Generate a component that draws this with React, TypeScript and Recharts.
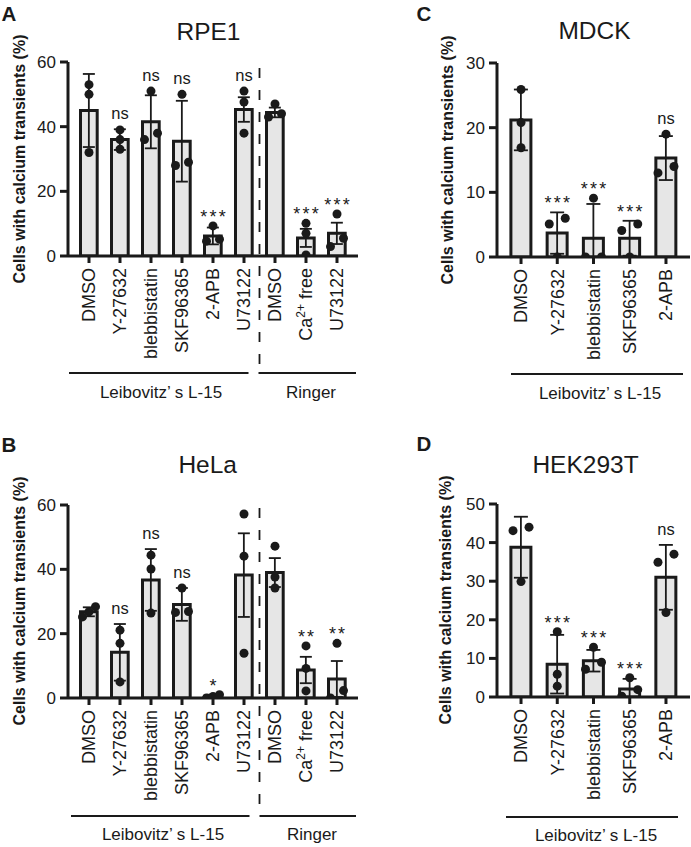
import React from 'react';
import { ComposedChart, Bar, ErrorBar, Scatter, XAxis, YAxis } from 'recharts';

const FONT = '"Liberation Sans", Arial, Helvetica, sans-serif';
const INK = '#1a1a1a';
const BAR_FILL = '#e6e6e6';

// ---------- categories ----------
const longCats = ['DMSO', 'Y-27632', 'blebbistatin', 'SKF96365', '2-APB', 'U73122', 'DMSO', 'Ca2+ free', 'U73122'];
const shortCats = ['DMSO', 'Y-27632', 'blebbistatin', 'SKF96365', '2-APB'];

// ---------- RPE1 ----------
const rpe1Mean = [45, 36, 41.5, 35.5, 6.2, 45.3, 44.4, 5.6, 7];
const rpe1Err = [11.3, 3.2, 8.2, 12.5, 2.6, 3.8, 1.5, 2.8, 3.3];
const rpe1Points = [
  [53, 50, 32],
  [39, 36, 33],
  [51, 36, 38],
  [50, 28, 29],
  [9.3, 5.2, 4.6],
  [51, 47.6, 38],
  [47, 43, 44],
  [10.1, 7.0, 0.3],
  [13, 2.9, 5.5],
];
const rpe1Sig = ['', 'ns', 'ns', 'ns', '***', 'ns', '', '***', '***'];

// ---------- HeLa ----------
const helaMean = [26.8, 14.2, 36.7, 29.1, 0.5, 38.2, 39.0, 8.7, 5.9];
const helaErr = [1.4, 8.8, 9.6, 5.1, 0.5, 13.0, 4.5, 4.1, 5.6];
const helaPoints = [
  [28.4, 26.8, 25.2],
  [21.1, 17, 5],
  [44.4, 40.1, 26.4],
  [34.2, 26.9, 26.6],
  [0, 0.5, 1],
  [57.2, 44.1, 13.9],
  [47.2, 37.6, 34.2],
  [16.2, 9.2, 2.2],
  [17, 0, 2.3],
];
const helaSig = ['', 'ns', 'ns', 'ns', '*', 'ns', '', '**', '**'];

// ---------- MDCK ----------
const mdckMean = [21.2, 3.7, 2.9, 2.9, 15.3];
const mdckErr = [4.7, 3.2, 5.3, 2.7, 3.4];
const mdckPoints = [
  [25.9, 20.8, 16.9],
  [6.0, 5.1, 0],
  [9.1, 0, 0],
  [5.1, 4.1, 0],
  [19, 13, 14],
];
const mdckSig = ['', '***', '***', '***', 'ns'];

// ---------- HEK293T ----------
const hekMean = [38.8, 8.5, 9.4, 2.1, 31.0];
const hekErr = [7.9, 7.6, 2.8, 2.6, 8.4];
const hekPoints = [
  [44, 43.1, 29.9],
  [16.9, 5.9, 2.8],
  [12.9, 7.2, 9.0],
  [5.0, 0.2, 1.9],
  [37, 34.9, 21.9],
];
const hekSig = ['', '***', '***', '***', 'ns'];

// ---------- layout ----------
type Geo = {
  left: number; top: number; width: number; height: number;
  plotLeft: number; plotRight: number; plotTop: number; plotBottom: number;
  xAxisH: number; pad: number; barSize: number; jitter: number; capW: number;
};

const geoA: Geo = { left: 0, top: 0, width: 360, height: 420, plotLeft: 68, plotRight: 358, plotTop: 62, plotBottom: 256, xAxisH: 140, pad: 5.5, barSize: 16.7, jitter: 6.5, capW: 6 };
const geoB: Geo = { left: 0, top: 440, width: 360, height: 400, plotLeft: 68, plotRight: 358, plotTop: 505, plotBottom: 698, xAxisH: 120, pad: 5.5, barSize: 16.7, jitter: 6.5, capW: 6 };
const geoC: Geo = { left: 420, top: 0, width: 271, height: 420, plotLeft: 497, plotRight: 690, plotTop: 63, plotBottom: 257, xAxisH: 140, pad: 5.9, barSize: 20, jitter: 8, capW: 7 };
const geoD: Geo = { left: 420, top: 440, width: 271, height: 400, plotLeft: 497, plotRight: 690, plotTop: 504, plotBottom: 697, xAxisH: 120, pad: 5.9, barSize: 20, jitter: 8, capW: 7 };

function jitterOffsets(vals: number[], ppu: number, j: number): number[] {
  const idx = vals.map((_, i) => i).sort((a, b) => vals[a] - vals[b]);
  const out = new Array(vals.length).fill(0);
  let cluster: number[] = [idx[0]];
  const flush = () => {
    const n = cluster.length;
    cluster.forEach((k, m) => {
      out[k] = n === 1 ? 0 : (m - (n - 1) / 2) * ((2 * j) / (n - 1));
    });
  };
  for (let t = 1; t < idx.length; t++) {
    const prev = idx[t - 1];
    const cur = idx[t];
    if ((vals[cur] - vals[prev]) * ppu < 9) cluster.push(cur);
    else {
      flush();
      cluster = [cur];
    }
  }
  flush();
  return out;
}

function XTick(props: any) {
  const { x, y, payload, cats } = props;
  const label: string = cats[Number(payload.value)] || '';
  const m = label.match(/^(\D+?)(\d\+)(.*)$/);
  const base = 6.3;
  return (
    <text x={x} y={y} transform={`rotate(-90, ${x}, ${y})`} textAnchor="end" fontSize={18} fill={INK} fontFamily={FONT}>
      {m ? (
        <>
          <tspan dy={base}>{m[1]}</tspan>
          <tspan dy={-7} fontSize={12}>{m[2]}</tspan>
          <tspan dy={7}>{m[3]}</tspan>
        </>
      ) : (
        <tspan dy={base}>{label}</tspan>
      )}
    </text>
  );
}

const dotShape = (k: number) => (props: any) => {
  const { cx, cy, payload } = props;
  if (cx == null || cy == null) return <g />;
  return <circle cx={cx + (payload['d' + k] || 0)} cy={cy} r={4.5} fill={INK} />;
};

const sigShape = (props: any) => {
  const { cx, cy, payload } = props;
  const s: string = payload.sig;
  if (!s || cx == null) return <g />;
  const stars = s.includes('*');
  return (
    <text
      x={cx}
      y={stars ? cy - 3 : cy - 10}
      dx={stars ? 1.1 : 0}
      textAnchor="middle"
      fontSize={stars ? 18 : 16.5}
      letterSpacing={stars ? 2.2 : 0}
      fill={INK}
      fontFamily={FONT}
    >
      {s}
    </text>
  );
};

type PanelProps = {
  geo: Geo; cats: string[]; mean: number[]; err: number[]; pts: number[][]; sig: string[];
  yMax: number; yTicks: number[];
};

function Panel({ geo, cats, mean, err, pts, sig, yMax, yTicks }: PanelProps) {
  const ppu = (geo.plotBottom - geo.plotTop) / yMax;
  const rows = cats.map((_, i) => {
    const p = pts[i];
    const dx = jitterOffsets(p, ppu, geo.jitter);
    return {
      key: String(i),
      mean: mean[i],
      err: [Math.min(err[i], mean[i]), err[i]],
      p0: p[0], p1: p[1], p2: p[2],
      d0: dx[0], d1: dx[1], d2: dx[2],
      top: Math.max(mean[i] + err[i], ...p),
      sig: sig[i],
    };
  });
  const margin = {
    top: geo.plotTop - geo.top,
    left: 0,
    right: geo.left + geo.width - geo.plotRight,
    bottom: geo.top + geo.height - geo.plotBottom - geo.xAxisH,
  };
  const line = { stroke: INK, strokeWidth: 3 };
  return (
    <div style={{ position: 'absolute', left: geo.left, top: geo.top }}>
      <ComposedChart width={geo.width} height={geo.height} data={rows} margin={margin}>
        <XAxis
          dataKey="key"
          type="category"
          height={geo.xAxisH}
          padding={{ left: geo.pad, right: geo.pad }}
          interval={0}
          tickSize={7}
          tickMargin={5}
          tickLine={line}
          axisLine={line}
          tick={(p: any) => <XTick {...p} cats={cats} />}
        />
        <YAxis
          type="number"
          domain={[0, yMax]}
          ticks={yTicks}
          interval={0}
          allowDataOverflow
          width={geo.plotLeft - geo.left}
          tickSize={8}
          tickMargin={4}
          tickLine={line}
          axisLine={line}
          tick={{ fontSize: 17, fill: INK, fontFamily: FONT }}
        />
        <Bar dataKey="mean" fill={BAR_FILL} stroke={INK} strokeWidth={3} barSize={geo.barSize} isAnimationActive={false}>
          <ErrorBar dataKey="err" width={geo.capW} strokeWidth={1.8} stroke={INK} direction="y" />
        </Bar>
        <Scatter dataKey="p0" shape={dotShape(0)} isAnimationActive={false} />
        <Scatter dataKey="p1" shape={dotShape(1)} isAnimationActive={false} />
        <Scatter dataKey="p2" shape={dotShape(2)} isAnimationActive={false} />
        <Scatter dataKey="top" shape={sigShape} isAnimationActive={false} />
      </ComposedChart>
    </div>
  );
}

function dividerX(g: Geo, n: number, after: number) {
  const band = (g.plotRight - g.plotLeft - 2 * g.pad) / n;
  return g.plotLeft + g.pad + band * after;
}

function Overlay() {
  const dA = dividerX(geoA, 9, 6);
  const dB = dividerX(geoB, 9, 6);
  const title = { fontSize: 24.5, fill: INK, fontFamily: FONT, textAnchor: 'middle' as const };
  const letter = { fontSize: 20.5, fontWeight: 700, fill: INK, fontFamily: FONT };
  const ylab = { fontSize: 16, fontWeight: 700, fill: INK, fontFamily: FONT, textAnchor: 'middle' as const };
  const grp = { fontSize: 17, fill: INK, fontFamily: FONT, textAnchor: 'middle' as const };
  const gl = { stroke: INK, strokeWidth: 2.2 };
  const yLabel = 'Cells with calcium transients (%)';
  const l15 = 'Leibovitz\u2019 s L-15';
  return (
    <svg width={691} height={847} style={{ position: 'absolute', left: 0, top: 0, pointerEvents: 'none' }}>
      {/* panel letters */}
      <text x={1.5} y={20.7} {...letter}>A</text>
      <text x={1.5} y={451.7} {...letter}>B</text>
      <text x={416.5} y={20.7} {...letter}>C</text>
      <text x={416.5} y={450.7} {...letter}>D</text>
      {/* titles */}
      <text x={208.5} y={40} {...title}>RPE1</text>
      <text x={207.7} y={473} {...title}>HeLa</text>
      <text x={594.5} y={38.5} {...title}>MDCK</text>
      <text x={585.5} y={473} {...title}>HEK293T</text>
      {/* y labels */}
      <text transform="translate(25,159) rotate(-90)" {...ylab}>{yLabel}</text>
      <text transform="translate(25,601) rotate(-90)" {...ylab}>{yLabel}</text>
      <text transform="translate(453,160) rotate(-90)" {...ylab}>{yLabel}</text>
      <text transform="translate(451,600) rotate(-90)" {...ylab}>{yLabel}</text>
      {/* dividers */}
      <line x1={dA} x2={dA} y1={68} y2={365} stroke={INK} strokeWidth={1.8} strokeDasharray="10 12" />
      <line x1={dB} x2={dB} y1={508} y2={807} stroke={INK} strokeWidth={1.8} strokeDasharray="10 12" />
      {/* group brackets A */}
      <line x1={69} x2={dA - 11} y1={373} y2={373} {...gl} />
      <line x1={dA - 1} x2={356} y1={373} y2={373} {...gl} />
      <text x={161} y={398} {...grp}>{l15}</text>
      <text x={311} y={398} {...grp}>Ringer</text>
      {/* group brackets B */}
      <line x1={71} x2={dB - 10} y1={816} y2={816} {...gl} />
      <line x1={dB} x2={356} y1={816} y2={816} {...gl} />
      <text x={163} y={840} {...grp}>{l15}</text>
      <text x={312} y={840} {...grp}>Ringer</text>
      {/* group brackets C, D */}
      <line x1={511} x2={683} y1={374} y2={374} {...gl} />
      <text x={600} y={399} {...grp}>{l15}</text>
      <line x1={506} x2={678} y1={817} y2={817} {...gl} />
      <text x={596} y={841} {...grp}>{l15}</text>
    </svg>
  );
}

export default function App() {
  return (
    <div style={{ position: 'absolute', left: 0, top: 0, width: 691, height: 847, background: '#fff', overflow: 'hidden' }}>
      <Panel geo={geoA} cats={longCats} mean={rpe1Mean} err={rpe1Err} pts={rpe1Points} sig={rpe1Sig} yMax={60} yTicks={[0, 20, 40, 60]} />
      <Panel geo={geoB} cats={longCats} mean={helaMean} err={helaErr} pts={helaPoints} sig={helaSig} yMax={60} yTicks={[0, 20, 40, 60]} />
      <Panel geo={geoC} cats={shortCats} mean={mdckMean} err={mdckErr} pts={mdckPoints} sig={mdckSig} yMax={30} yTicks={[0, 10, 20, 30]} />
      <Panel geo={geoD} cats={shortCats} mean={hekMean} err={hekErr} pts={hekPoints} sig={hekSig} yMax={50} yTicks={[0, 10, 20, 30, 40, 50]} />
      <Overlay />
    </div>
  );
}
